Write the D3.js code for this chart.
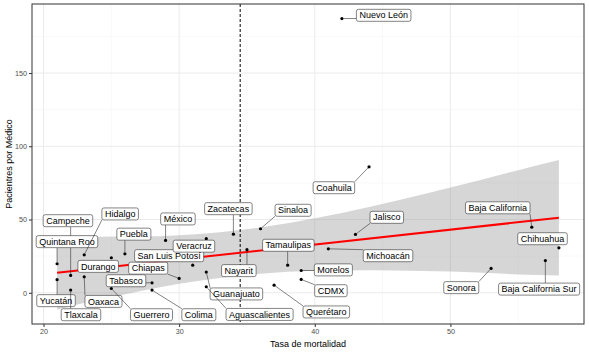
<!DOCTYPE html>
<html>
<head>
<meta charset="utf-8">
<script src="https://cdn.jsdelivr.net/npm/d3@7"></script>
<style>
  body { margin: 0; background: #fff; }
  svg { display: block; font-family: "Liberation Sans", Arial, sans-serif; }
</style>
</head>
<body>
<div id="container"></div>
<script>
const width = 589, height = 353;
const margin = { top: 4, right: 5, bottom: 29, left: 32 };
const iw = width - margin.left - margin.right;
const ih = height - margin.top - margin.bottom;

// --- Data ---
const estados = ["Campeche", "Quintana Roo", "Hidalgo", "Puebla", "México", "Durango",
  "Yucatán", "Tlaxcala", "Oaxaca", "Tabasco", "Guerrero", "Colima", "Chiapas",
  "San Luis Potosí", "Veracruz", "Zacatecas", "Nayarit", "Guanajuato", "Aguascalientes",
  "Sinaloa", "Tamaulipas", "Morelos", "CDMX", "Querétaro", "Michoacán", "Jalisco",
  "Coahuila", "Nuevo León", "Baja California", "Chihuahua", "Baja California Sur", "Sonora"];
const mortalidad = [22, 21, 23, 26, 29, 25, 21, 22, 23, 28, 25, 28, 30, 31, 32, 34, 35, 32, 32,
  36, 38, 39, 39, 37, 41, 43, 44, 42, 56, 58, 57, 53];
const pacientes = [11.8, 19.8, 25.9, 26.6, 35.7, 23.9, 8.9, 1.8, 10.9, 6.8, 2.9, 1.8, 9.8,
  18.8, 36.9, 40.0, 29.4, 14.1, 4.1, 43.7, 18.8, 15.2, 9.1, 5.2, 30.0, 39.8, 86.0, 187.2,
  44.8, 30.7, 22.0, 16.6];

// where the repelled labels sit (data units)
const labelX = [21.8, 21.73, 25.65, 26.66, 29.91, 24.03, 20.92, 22.76, 24.42, 26.08, 27.96,
  31.45, 27.72, 29.26, 31.09, 33.63, 34.4, 34.22, 35.93, 38.4, 38.05, 41.37, 41.19, 40.85,
  45.4, 45.31, 41.41, 45.08, 53.49, 56.79, 56.54, 50.8];
const labelY = [49.2, 34.9, 53.8, 40.0, 50.4, 18.0, -5.4, -15.0, -5.9, 8.2, -15.0, -15.0, 16.8,
  25.3, 31.8, 57.4, 15.1, -0.8, -14.8, 56.3, 32.4, 15.6, 1.4, -13.1, 25.3, 51.5, 71.7, 189.4,
  58.0, 36.9, 2.5, 3.5];

// linear fit and its confidence band
const fitX = [21, 58];
const fitY = [13.6, 51.2];
const bandX = [21, 24, 27, 30, 33, 36, 40, 44, 48, 52, 55, 58];
const bandLo = [-11.4, -5.0, 0.9, 6.1, 10.1, 13.0, 15.0, 15.4, 14.8, 13.8, 12.5, 11.8];
const bandHi = [38.6, 38.3, 38.4, 39.3, 41.3, 44.6, 50.8, 58.6, 67.2, 76.4, 83.7, 90.6];

const meanMort = 34.5;

const xTicks = [20, 30, 40, 50];
const yTicks = [0, 50, 100, 150];

// --- Scales (ggplot-style 5% expansion) ---
function expand(lo, hi) { const p = (hi - lo) * 0.05; return [lo - p, hi + p]; }
const xDom = expand(d3.min(mortalidad), d3.max(mortalidad));
const yDom = expand(Math.min(d3.min(pacientes), d3.min(bandLo)),
                    Math.max(d3.max(pacientes), d3.max(bandHi)));
const x = d3.scaleLinear().domain(xDom).range([0, iw]);
const y = d3.scaleLinear().domain(yDom).range([ih, 0]);

const svg = d3.select("#container").append("svg")
  .attr("width", width).attr("height", height);
const g = svg.append("g").attr("transform", `translate(${margin.left},${margin.top})`);

// --- Grid ---
const minorX = d3.range(25, xDom[1], 10);
const minorY = d3.range(25, yDom[1], 50);
g.selectAll(".mx").data(minorX).join("line")
  .attr("x1", d => x(d)).attr("x2", d => x(d)).attr("y1", 0).attr("y2", ih)
  .attr("stroke", "#f2f2f2").attr("stroke-width", 0.5);
g.selectAll(".my").data(minorY).join("line")
  .attr("x1", 0).attr("x2", iw).attr("y1", d => y(d)).attr("y2", d => y(d))
  .attr("stroke", "#f2f2f2").attr("stroke-width", 0.5);
g.selectAll(".gx").data(xTicks).join("line")
  .attr("x1", d => x(d)).attr("x2", d => x(d)).attr("y1", 0).attr("y2", ih)
  .attr("stroke", "#ebebeb").attr("stroke-width", 1);
g.selectAll(".gy").data(yTicks).join("line")
  .attr("x1", 0).attr("x2", iw).attr("y1", d => y(d)).attr("y2", d => y(d))
  .attr("stroke", "#ebebeb").attr("stroke-width", 1);

// --- Confidence band + fit ---
const band = bandX.map((d, i) => ({ x: d, lo: bandLo[i], hi: bandHi[i] }));
g.append("path").datum(band)
  .attr("fill", "#999999").attr("fill-opacity", 0.4)
  .attr("d", d3.area().x(d => x(d.x)).y0(d => y(d.lo)).y1(d => y(d.hi)).curve(d3.curveMonotoneX));

g.append("line")
  .attr("x1", x(meanMort)).attr("x2", x(meanMort)).attr("y1", 0).attr("y2", ih)
  .attr("stroke", "#000").attr("stroke-width", 1).attr("stroke-dasharray", "3,2");

g.append("path").datum(fitX.map((d, i) => [d, fitY[i]]))
  .attr("fill", "none").attr("stroke", "#ff0000").attr("stroke-width", 2)
  .attr("d", d3.line().x(d => x(d[0])).y(d => y(d[1])));

// --- Points ---
g.selectAll(".pt").data(mortalidad).join("circle")
  .attr("cx", d => x(d)).attr("cy", (d, i) => y(pacientes[i]))
  .attr("r", 1.6).attr("fill", "#000");

// --- Repelled labels with leader segments ---
const fs = 9, padX = 3, boxH = 12;
const lab = g.append("g").style("font-size", fs + "px");
estados.forEach((name, i) => {
  const t = lab.append("text").text(name);
  const w = t.node().getComputedTextLength() + padX * 2;
  const cx = x(labelX[i]), cy = y(labelY[i]);
  const bx = cx - w / 2, by = cy - boxH / 2;
  const px = x(mortalidad[i]), py = y(pacientes[i]);
  const nx = Math.max(bx, Math.min(px, bx + w));
  const ny = Math.max(by, Math.min(py, by + boxH));
  const dist = Math.hypot(nx - px, ny - py);
  if (dist > 4) {
    const k = 1.5 / dist;
    lab.insert("line", "text")
      .attr("x1", px + (nx - px) * k).attr("y1", py + (ny - py) * k)
      .attr("x2", nx).attr("y2", ny)
      .attr("stroke", "#333").attr("stroke-width", 0.6);
  }
  lab.insert("rect", "text")
    .attr("x", bx).attr("y", by).attr("width", w).attr("height", boxH)
    .attr("rx", 2).attr("fill", "#fff").attr("stroke", "#333").attr("stroke-width", 0.6);
  t.attr("x", cx).attr("y", cy + fs * 0.35).attr("text-anchor", "middle").attr("fill", "#000");
});

// --- Panel border, ticks ---
g.append("rect").attr("width", iw).attr("height", ih)
  .attr("fill", "none").attr("stroke", "#333").attr("stroke-width", 1);

const xAxis = g.append("g").attr("transform", `translate(0,${ih})`)
  .call(d3.axisBottom(x).tickValues(xTicks).tickSize(3).tickPadding(2));
const yAxis = g.append("g")
  .call(d3.axisLeft(y).tickValues(yTicks).tickSize(3).tickPadding(2));
[xAxis, yAxis].forEach(a => {
  a.select(".domain").remove();
  a.selectAll("line").attr("stroke", "#333");
  a.selectAll("text").attr("fill", "#4d4d4d").style("font-size", "7.2px")
    .style("font-family", "'Liberation Sans', Arial, sans-serif");
});

// --- Axis titles ---
svg.append("text")
  .attr("x", margin.left + iw / 2).attr("y", height - 6)
  .attr("text-anchor", "middle").attr("fill", "#000").style("font-size", "9px")
  .text("Tasa de mortalidad");
svg.append("text")
  .attr("transform", `translate(12,${margin.top + ih / 2}) rotate(-90)`)
  .attr("text-anchor", "middle").attr("fill", "#000").style("font-size", "9px")
  .text("Pacientres por Médico");
</script>
</body>
</html>
